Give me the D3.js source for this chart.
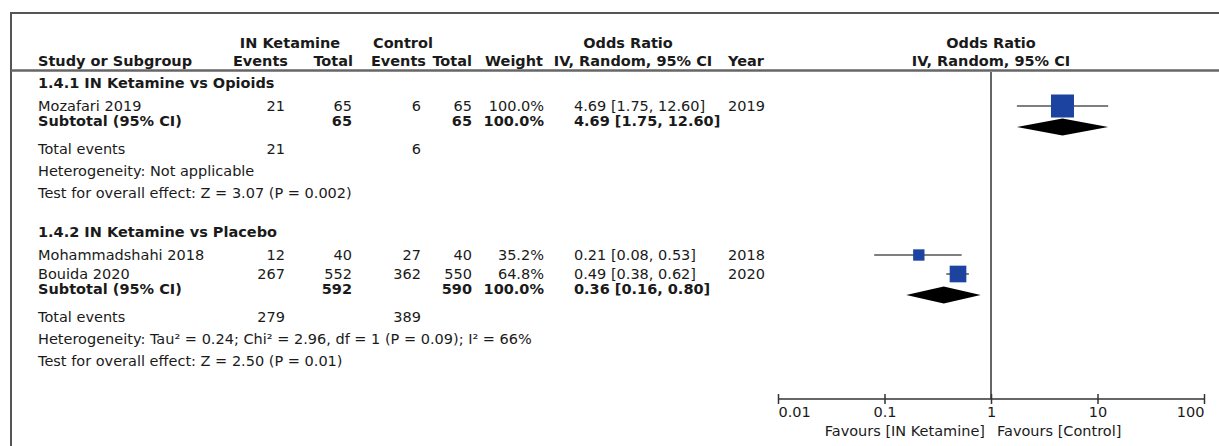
<!DOCTYPE html>
<meta charset="utf-8">
<title>Forest plot</title>
<style>
body { margin: 0; background: #fff; }
text { font-family: "DejaVu Sans", Verdana, sans-serif; font-size: 14.5px; fill: #1a1a1a; }
.b { font-weight: bold; }
</style>
<body>
<script src="https://d3js.org/d3.v7.min.js"></script>
<script>

var groups = ["1.4.1 IN Ketamine vs Opioids", "1.4.2 IN Ketamine vs Placebo"];

// one entry per study
var studyNames = ["Mozafari 2019", "Mohammadshahi 2018", "Bouida 2020"];
var studyGroup = [0, 1, 1];
var ketEvents  = [21, 12, 267];
var ketTotal   = [65, 40, 552];
var ctlEvents  = [6, 27, 362];
var ctlTotal   = [65, 40, 550];
var weights    = [100.0, 35.2, 64.8];
var orVal      = [4.69, 0.21, 0.49];
var orLow      = [1.75, 0.08, 0.38];
var orHigh     = [12.60, 0.53, 0.62];
var years      = [2019, 2018, 2020];

// one entry per subgroup
var subKetTotal = [65, 592];
var subCtlTotal = [65, 590];
var subWeight   = [100.0, 100.0];
var subOr       = [4.69, 0.36];
var subLow      = [1.75, 0.16];
var subHigh     = [12.60, 0.80];
var subKetEv    = [21, 279];
var subCtlEv    = [6, 389];
var subHet      = ["Heterogeneity: Not applicable",
                   "Heterogeneity: Tau\u00b2 = 0.24; Chi\u00b2 = 2.96, df = 1 (P = 0.09); I\u00b2 = 66%"];
var subTest     = ["Test for overall effect: Z = 3.07 (P = 0.002)",
                   "Test for overall effect: Z = 2.50 (P = 0.01)"];

var axisTicks = [0.01, 0.1, 1, 10, 100];
var favours = ["Favours [IN Ketamine]", "Favours [Control]"];

var width = 1219, height = 446;

var svg = d3.select("body").append("svg")
    .attr("width", width)
    .attr("height", height);

// column anchors
var col = {
  study: 38,
  ketEv: 285, ketTot: 352,
  ctlEv: 421, ctlTot: 472,
  weight: 544, ci: 574, year: 728
};

var x = d3.scaleLog()
    .domain([0.01, 100])
    .range([778, 1204]);

var axisY = 399;

function fmt2(v) { return d3.format(".2f")(v); }
function ciText(o, l, h) { return fmt2(o) + " [" + fmt2(l) + ", " + fmt2(h) + "]"; }
function pct(w) { return d3.format(".1f")(w) + "%"; }

function txt(xp, yp, s, anchor, bold) {
  return svg.append("text")
    .attr("x", xp).attr("y", yp)
    .attr("text-anchor", anchor || "start")
    .attr("class", bold ? "b" : null)
    .text(s);
}

// frame
svg.append("rect")
    .attr("x", 11).attr("y", 13)
    .attr("width", width).attr("height", height)
    .attr("fill", "none")
    .attr("stroke", "#555")
    .attr("stroke-width", 2);

// headers
txt(290, 48, "IN Ketamine", "middle", true);
txt(403, 48, "Control", "middle", true);
txt(628, 48, "Odds Ratio", "middle", true);
txt(x(1), 48, "Odds Ratio", "middle", true);

txt(col.study, 66, "Study or Subgroup", "start", true);
txt(col.ketEv + 3, 66, "Events", "end", true);
txt(col.ketTot + 1, 66, "Total", "end", true);
txt(col.ctlEv + 5, 66, "Events", "end", true);
txt(col.ctlTot, 66, "Total", "end", true);
txt(col.weight - 1, 66, "Weight", "end", true);
txt(633, 66, "IV, Random, 95% CI", "middle", true);
txt(col.year, 66, "Year", "start", true);
txt(x(1), 66, "IV, Random, 95% CI", "middle", true);

svg.append("line")
    .attr("x1", 11).attr("x2", width)
    .attr("y1", 70.5).attr("y2", 70.5)
    .attr("stroke", "#666")
    .attr("stroke-width", 2.5);

// null line
svg.append("line")
    .attr("x1", x(1)).attr("x2", x(1))
    .attr("y1", 72).attr("y2", axisY)
    .attr("stroke", "#333")
    .attr("stroke-width", 1.5);

var forest = svg.append("g");

var yb = 88;
groups.forEach(function(g, gi) {
  txt(col.study, yb, g, "start", true);
  yb += 23;
  var idx = d3.range(studyNames.length).filter(function(i) { return studyGroup[i] === gi; });
  idx.forEach(function(i, k) {
    if (k > 0) yb += 19;
    txt(col.study, yb, studyNames[i]);
    txt(col.ketEv, yb, ketEvents[i], "end");
    txt(col.ketTot, yb, ketTotal[i], "end");
    txt(col.ctlEv, yb, ctlEvents[i], "end");
    txt(col.ctlTot, yb, ctlTotal[i], "end");
    txt(col.weight, yb, pct(weights[i]), "end");
    txt(col.ci, yb, ciText(orVal[i], orLow[i], orHigh[i]));
    txt(col.year, yb, years[i]);

    var cy = yb - 5;
    var s = 5 + 18 * weights[i] / 100;
    forest.append("line")
        .attr("x1", x(orLow[i])).attr("x2", x(orHigh[i]))
        .attr("y1", cy).attr("y2", cy)
        .attr("stroke", "#555")
        .attr("stroke-width", 1.5);
    forest.append("rect")
        .attr("x", x(orVal[i]) - s / 2).attr("y", cy - s / 2)
        .attr("width", s).attr("height", s)
        .attr("fill", "#1d43a1");
  });
  yb += 15;
  txt(col.study, yb, "Subtotal (95% CI)", "start", true);
  txt(col.ketTot, yb, subKetTotal[gi], "end", true);
  txt(col.ctlTot, yb, subCtlTotal[gi], "end", true);
  txt(col.weight, yb, pct(subWeight[gi]), "end", true);
  txt(col.ci, yb, ciText(subOr[gi], subLow[gi], subHigh[gi]), "start", true);

  var dy = yb + 1, dh = 8.5;
  forest.append("path")
      .attr("d", "M" + x(subLow[gi]) + "," + dy +
                 "L" + x(subOr[gi]) + "," + (dy - dh) +
                 "L" + x(subHigh[gi]) + "," + dy +
                 "L" + x(subOr[gi]) + "," + (dy + dh) + "Z")
      .attr("fill", "#000");

  yb += 28;
  txt(col.study, yb, "Total events");
  txt(col.ketEv, yb, subKetEv[gi], "end");
  txt(col.ctlEv, yb, subCtlEv[gi], "end");
  yb += 22;
  txt(col.study, yb, subHet[gi]);
  yb += 22;
  txt(col.study, yb, subTest[gi]);
  yb += 39;
});

// axis
var axis = svg.append("g")
    .attr("transform", "translate(0," + axisY + ")")
    .call(d3.axisBottom(x).tickValues(axisTicks).tickSize(5).tickFormat(function(d) { return String(d); }));

axis.select(".domain").attr("stroke", "#333").attr("stroke-width", 1.5).attr("d", "M" + x(0.01) + ",0H" + x(100));
axis.selectAll(".tick line").attr("y1", -5).attr("y2", 5).attr("stroke", "#333").attr("stroke-width", 1.5);
axis.selectAll(".tick text")
    .attr("y", 8)
    .attr("dy", "0.71em")
    .style("font-family", "'DejaVu Sans', Verdana, sans-serif")
    .style("font-size", "14.5px")
    .attr("fill", "#1a1a1a")
    .attr("text-anchor", function(d, i) { return i === 0 ? "start" : (i === axisTicks.length - 1 ? "end" : "middle"); });

// direction labels either side of the null line
txt(x(1) - 6, 436, favours[0], "end");
txt(x(1) + 6, 436, favours[1], "start");

</script>
</body>
